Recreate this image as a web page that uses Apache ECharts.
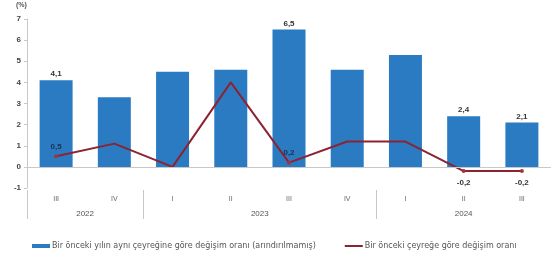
<!DOCTYPE html>
<html><head><meta charset="utf-8">
<script src="https://cdn.jsdelivr.net/npm/echarts@6/dist/echarts.min.js"></script>
<style>html,body{margin:0;padding:0;background:#fff}#c{width:551px;height:257px}</style>
</head><body><div id="c"></div>
<script>
const quarters = ['III','IV','I','II','III','IV','I','II','III'];
const years = ['2022','','','2023','','','','2024',''];
const annual = [4.1, 3.3, 4.5, 4.6, 6.5, 4.6, 5.3, 2.4, 2.1];
const quarterly = [0.5, 1.1, 0.0, 4.0, 0.2, 1.2, 1.2, -0.2, -0.2];
const annualLabeled = [0, 4, 7, 8];
const quarterlyLabeled = [0, 4, 7, 8];
const seriesNames = ['Bir önceki yılın aynı çeyreğine göre değişim oranı (arındırılmamış)', 'Bir önceki çeyreğe göre değişim oranı'];

const fmt = v => String(v.toFixed(1)).replace('.', ',');
const chart = echarts.init(document.getElementById('c'));
chart.setOption({
  animation: false,
  textStyle: {fontFamily: 'Liberation Sans, Arial, sans-serif'},
  grid: {left: 27, right: -1, top: 19, bottom: 69},
  legend: {
    left: 27, top: 237, itemGap: 28, itemWidth: 18, itemHeight: 4,
    textStyle: {fontSize: 8, color: '#555', fontFamily: 'DejaVu Sans', padding: [0,0,0,-3]},
    data: [{name: seriesNames[0], icon: 'rect'}, {name: seriesNames[1], itemStyle: {opacity: 0}}]
  },
  graphic: [{type: 'text', left: 16, top: 2, style: {text: '(%)', fontSize: 7, fill: '#555', fontWeight: 'bold'}}],
  xAxis: [{
    type: 'category', data: quarters, position: 'bottom',
    axisLine: {show: false}, axisTick: {show: false},
    axisLabel: {margin: 8, fontSize: 7, color: '#666'}
  }, {
    type: 'category', data: years, position: 'bottom', offset: 2,
    axisLine: {show: false},
    axisTick: {show: true, length: 29, interval: (i) => i === 0 || i === 2 || i === 6, lineStyle: {color: '#c8c8c8'}},
    axisLabel: {
      margin: 20, fontSize: 8, color: '#555', interval: 0,
      formatter: (v, i) => v === '' ? '' : (i === 0 || i === 3 ? '{s|' + v + '}' : v),
      rich: {s: {padding: [0, 0, 0, 58], fontSize: 8, color: '#555'}}
    }
  }],
  yAxis: {
    type: 'value', min: -1, max: 7, interval: 1,
    axisLine: {show: true, lineStyle: {color: '#c8c8c8'}},
    axisTick: {show: true, length: 3, lineStyle: {color: '#c8c8c8'}},
    splitLine: {show: false},
    axisLabel: {margin: 6, fontSize: 8, color: '#444', fontWeight: 'bold'}
  },
  series: [{
    name: seriesNames[0], type: 'bar', barWidth: 33,
    itemStyle: {color: '#2b7bc2'},
    data: annual.map((v, i) => ({
      value: v,
      label: {show: annualLabeled.includes(i), position: 'top', distance: 2, formatter: p => fmt(p.value), fontSize: 8, fontWeight: 'bold', color: '#333'}
    })),
    markLine: {silent: true, symbol: 'none', label: {show: false}, lineStyle: {color: '#c8c8c8', type: 'solid', width: 1}, data: [{yAxis: 0}]}
  }, {
    name: seriesNames[1], type: 'line', symbol: 'none',
    lineStyle: {color: '#8b2332', width: 2}, itemStyle: {color: '#a8323c'},
    data: quarterly.map((v, i) => {
      const lab = quarterlyLabeled.includes(i);
      return {
        value: v, symbol: lab ? 'circle' : 'none', symbolSize: 4,
        label: {show: lab, position: v < 0 ? 'bottom' : 'top', distance: v < 0 ? 6 : 4, formatter: p => fmt(p.value), fontSize: 8, fontWeight: 'bold', color: v < 0 ? '#333' : '#1f3050'}
      };
    })
  }]
});
</script></body></html>
